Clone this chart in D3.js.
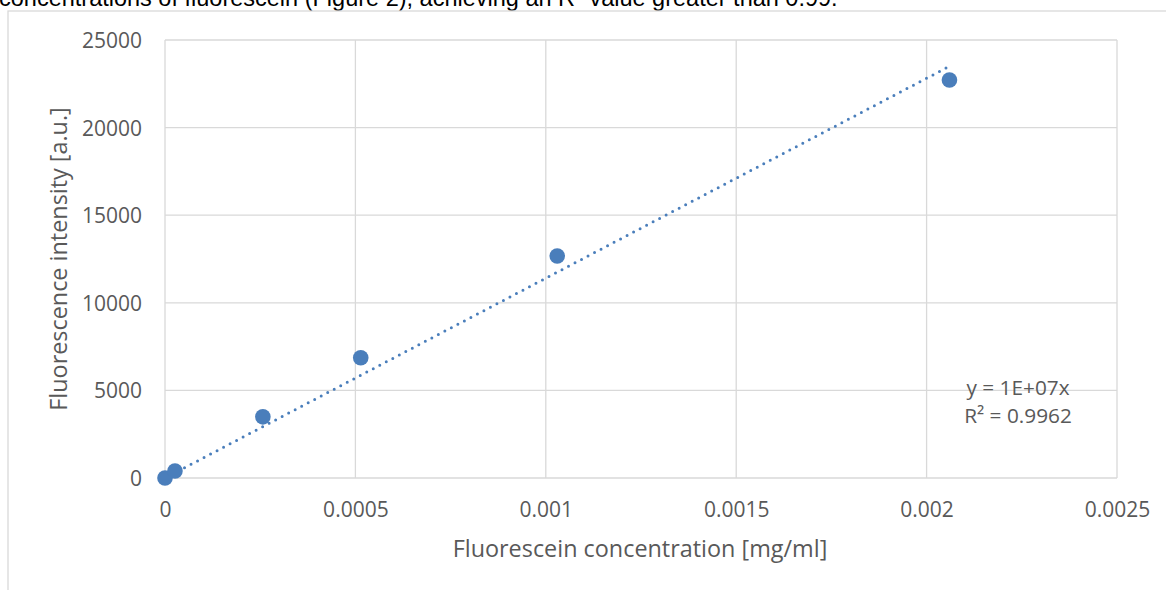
<!DOCTYPE html>
<html><head><meta charset="utf-8">
<script src="https://cdn.jsdelivr.net/npm/d3@7"></script>
<style>
html,body{margin:0;padding:0;background:#fff;overflow:hidden;}
svg{display:block;}
</style></head>
<body>
<svg id="chart" width="1166" height="590"></svg>
<script>
// Data
const concentration = [0, 0.0000262, 0.000257, 0.000514, 0.00103, 0.00206];
const intensity = [0, 400, 3490, 6860, 12670, 22720];
const xTicks = [0, 0.0005, 0.001, 0.0015, 0.002, 0.0025];
const xTickLabels = ["0", "0.0005", "0.001", "0.0015", "0.002", "0.0025"];
const yTicks = [0, 5000, 10000, 15000, 20000, 25000];
const yTickLabels = ["0", "5000", "10000", "15000", "20000", "25000"];
const captionText = "concentrations of fluorescein (Figure 2), achieving an R\u00B2 value greater than 0.99.";
const xTitle = "Fluorescein concentration [mg/ml]";
const yTitle = "Fluorescence intensity [a.u.]";
const equationLines = ["y = 1E+07x", "R\u00B2 = 0.9962"];

const svg = d3.select("#chart");
const W = 1166, H = 590;
const plot = {left:165, right:1117, top:40, bottom:478};
const grid = "#d9d9d9", textCol = "#595959", blue = "#4a7ebb";
const font = "'Open Sans', sans-serif";

// caption text cut at top
svg.append("text").attr("x", -1).attr("y", 5.5)
  .attr("font-family", "'Liberation Sans', Arial, sans-serif").attr("font-size", 23.5)
  .attr("fill", "#000").text(captionText);

// chart area frame
svg.append("rect").attr("x", 8).attr("y", 11).attr("width", W + 20).attr("height", H + 20)
  .attr("fill", "#fff").attr("stroke", grid).attr("stroke-width", 1.3);

const x = d3.scaleLinear().domain([0, 0.0025]).range([plot.left, plot.right]);
const y = d3.scaleLinear().domain([0, 25000]).range([plot.bottom, plot.top]);

// gridlines
const g = svg.append("g");
g.selectAll("line.gx").data(xTicks).join("line")
  .attr("x1", d => x(d)).attr("x2", d => x(d))
  .attr("y1", plot.top).attr("y2", plot.bottom)
  .attr("stroke", grid).attr("stroke-width", 1.3);
g.selectAll("line.gy").data(yTicks).join("line")
  .attr("x1", plot.left).attr("x2", plot.right)
  .attr("y1", d => y(d)).attr("y2", d => y(d))
  .attr("stroke", grid).attr("stroke-width", 1.3);

// axes (labels only) via d3 axes
const xAxis = d3.axisBottom(x).tickValues(xTicks).tickFormat((d,i) => xTickLabels[i]).tickSize(0).tickPadding(0);
const xa = svg.append("g").attr("transform", `translate(0,${plot.bottom})`).call(xAxis);
xa.select(".domain").remove();
xa.selectAll("text").attr("font-family", font).attr("font-size", 21).attr("fill", textCol)
  .attr("dy", null).attr("y", 39);

const yAxis = d3.axisLeft(y).tickValues(yTicks).tickFormat((d,i) => yTickLabels[i]).tickSize(0).tickPadding(0);
const ya = svg.append("g").attr("transform", `translate(${plot.left - 23},0)`).call(yAxis);
ya.select(".domain").remove();
ya.selectAll("text").attr("font-family", font).attr("font-size", 21).attr("fill", textCol)
  .attr("dy", "0.36em");

// axis titles
svg.append("text").attr("x", 640).attr("y", 557)
  .attr("text-anchor", "middle").attr("font-family", font).attr("font-size", 23.4)
  .attr("fill", textCol).text(xTitle);
svg.append("text").attr("transform", `translate(67,${(plot.top + plot.bottom) / 2}) rotate(-90)`)
  .attr("text-anchor", "middle").attr("font-family", font).attr("font-size", 23.4)
  .attr("fill", textCol).text(yTitle);

// trendline: least squares through origin
const sxy = d3.sum(concentration, (c, i) => c * intensity[i]);
const sxx = d3.sum(concentration, c => c * c);
const slope = sxy / sxx;
const xMax = d3.max(concentration);
svg.append("line")
  .attr("x1", x(0)).attr("y1", y(0))
  .attr("x2", x(xMax)).attr("y2", y(slope * xMax))
  .attr("stroke", blue).attr("stroke-width", 3)
  .attr("stroke-linecap", "round").attr("stroke-dasharray", "0 7.35");

// points
svg.selectAll("circle.pt").data(concentration).join("circle")
  .attr("cx", d => x(d)).attr("cy", (d, i) => y(intensity[i]))
  .attr("r", 7.8).attr("fill", blue);

// equation
svg.append("text").attr("x", 1018).attr("y", 395).attr("text-anchor", "middle")
  .attr("font-family", font).attr("font-size", 20.8).attr("fill", textCol)
  .selectAll("tspan").data(equationLines).join("tspan")
  .attr("x", 1018).attr("dy", (d, i) => i === 0 ? 0 : 28).text(d => d);
</script>
</body></html>
